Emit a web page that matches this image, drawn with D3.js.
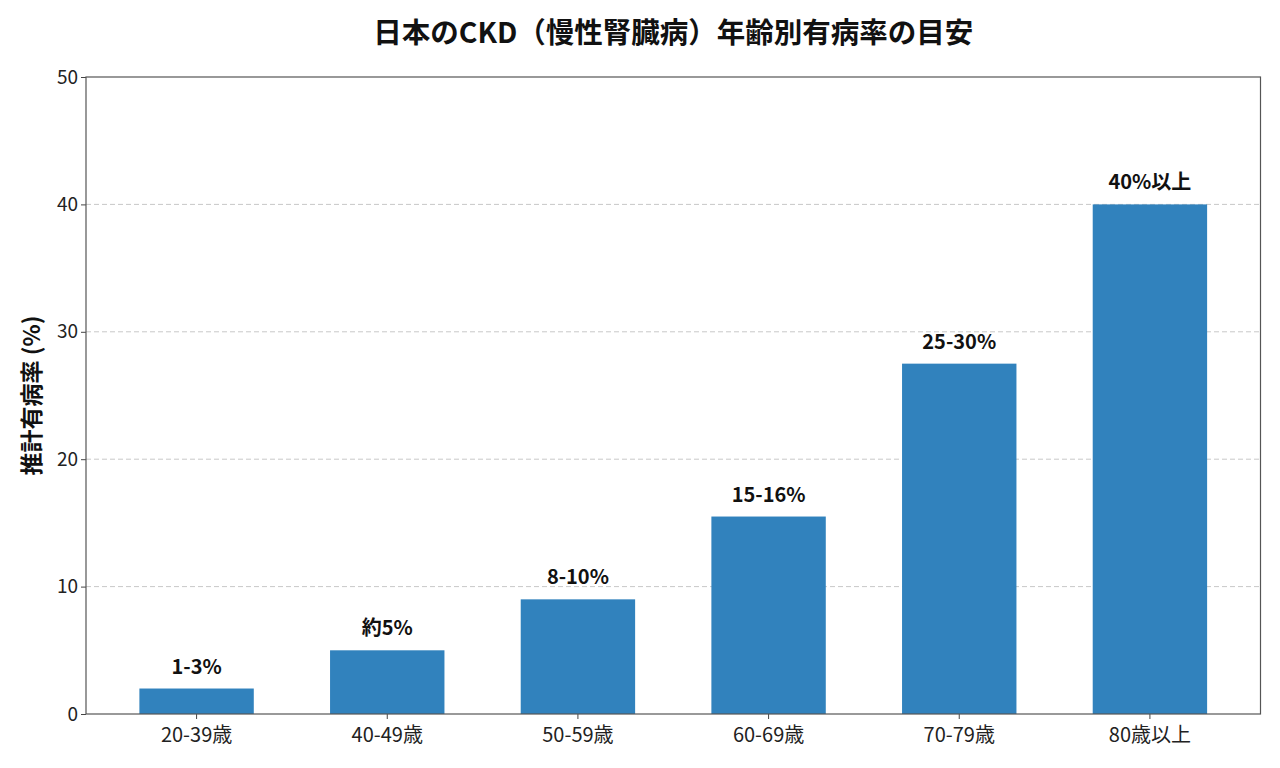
<!DOCTYPE html>
<html>
<head>
<meta charset="utf-8">
<script src="https://cdn.jsdelivr.net/npm/d3@7"></script>
<style>
  body { margin: 0; background: #fff; }
  svg { font-family: "Noto Sans CJK JP", "Noto Sans", sans-serif; }
</style>
</head>
<body>
<svg id="chart" width="1280" height="768"></svg>
<script>
// data
var ageGroups = ['20-39歳', '40-49歳', '50-59歳', '60-69歳', '70-79歳', '80歳以上'];
var prevalence = [2, 5, 9, 15.5, 27.5, 40];
var barLabels = ['1-3%', '約5%', '8-10%', '15-16%', '25-30%', '40%以上'];
var yTicks = [0, 10, 20, 30, 40, 50];

var margin = {top: 77, right: 19.5, bottom: 54, left: 86};
var width = 1280, height = 768;
var svg = d3.select('#chart');

var x = d3.scaleBand()
    .domain(ageGroups)
    .range([margin.left, width - margin.right])
    .paddingInner(0.4)
    .paddingOuter(0.28);

var y = d3.scaleLinear()
    .domain([0, 50])
    .range([height - margin.bottom, margin.top]);

// grid lines
svg.append('g')
    .selectAll('line')
    .data(yTicks.filter(function (t) { return t > 0 && t < 50; }))
    .enter().append('line')
    .attr('x1', margin.left).attr('x2', width - margin.right)
    .attr('y1', function (d) { return y(d); })
    .attr('y2', function (d) { return y(d); })
    .style('stroke', '#c8c8c8')
    .style('stroke-width', 1)
    .style('stroke-dasharray', '5,3');

// bars
svg.append('g')
    .selectAll('rect')
    .data(prevalence)
    .enter().append('rect')
    .attr('x', function (d, i) { return x(ageGroups[i]); })
    .attr('y', function (d) { return y(d); })
    .attr('width', x.bandwidth())
    .attr('height', function (d) { return y(0) - y(d); })
    .style('fill', '#3182bd');

// labels over bars
svg.append('g')
    .selectAll('text')
    .data(prevalence)
    .enter().append('text')
    .attr('x', function (d, i) { return x(ageGroups[i]) + x.bandwidth() / 2; })
    .attr('y', function (d) { return y(d) - 15; })
    .attr('text-anchor', 'middle')
    .style('font-size', '20px')
    .style('font-weight', 'bold')
    .style('fill', '#111')
    .text(function (d, i) { return barLabels[i]; });

// axes
var xAxis = svg.append('g')
    .attr('transform', 'translate(0,' + (height - margin.bottom) + ')')
    .call(d3.axisBottom(x).tickSize(5).tickSizeOuter(0));
var yAxis = svg.append('g')
    .attr('transform', 'translate(' + margin.left + ',0)')
    .call(d3.axisLeft(y).tickValues(yTicks).tickSize(5).tickSizeOuter(0));

[xAxis, yAxis].forEach(function (ax) {
  ax.select('.domain').remove();
  ax.selectAll('line').style('stroke', '#444');
  ax.selectAll('text')
    .style('font-family', '"Noto Sans CJK JP", "Noto Sans", sans-serif')
    .style('font-size', '19px')
    .style('fill', '#222');
});
xAxis.selectAll('text').style('font-size', '20px').attr('dy', '1.0em');

// frame
svg.append('rect')
    .attr('x', margin.left).attr('y', margin.top)
    .attr('width', width - margin.left - margin.right)
    .attr('height', height - margin.top - margin.bottom)
    .style('fill', 'none')
    .style('stroke', '#555')
    .style('stroke-width', 1.2);

// title
svg.append('text')
    .attr('x', (margin.left + width - margin.right) / 2)
    .attr('y', 43)
    .attr('text-anchor', 'middle')
    .style('font-size', '28.5px')
    .style('font-weight', 'bold')
    .style('fill', '#111')
    .text('日本のCKD（慢性腎臓病）年齢別有病率の目安');

// y label
svg.append('text')
    .attr('transform', 'translate(40,' + ((margin.top + height - margin.bottom) / 2) + ') rotate(-90)')
    .attr('text-anchor', 'middle')
    .style('font-size', '23px')
    .style('font-weight', 'bold')
    .style('fill', '#111')
    .text('推計有病率 (%)');
</script>
</body>
</html>
